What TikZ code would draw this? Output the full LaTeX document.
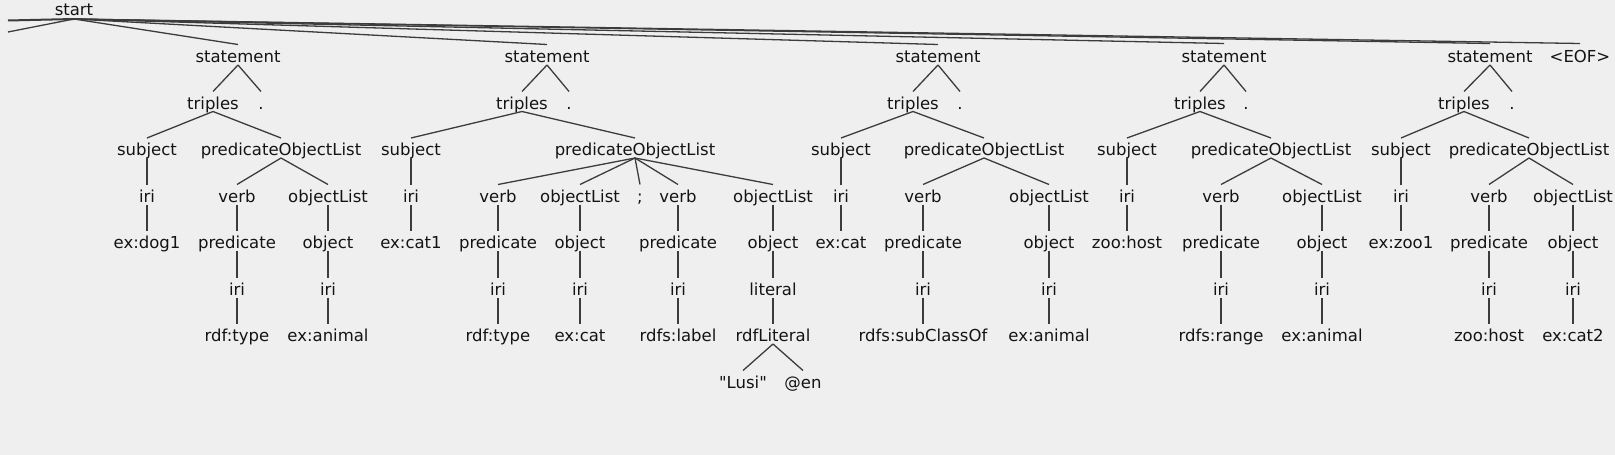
\documentclass[tikz,border=0pt]{standalone}
\usepackage{fontspec}
\setmainfont{DejaVu Sans}[Ligatures=TeXOff]
\definecolor{bgc}{RGB}{239,239,239}
\definecolor{edc}{RGB}{60,60,60}
\definecolor{txc}{RGB}{20,20,20}
\newcommand\edg[2]{\draw[edge] ([yshift=-2.5pt]#1.base) -- ([yshift=17.5pt]#2.base);}
\begin{document}
\begin{tikzpicture}[x=1pt,y=1pt,
  lab/.style={anchor=base,inner sep=0pt,outer sep=0pt,text=txc,font=\fontsize{16.5}{18}\selectfont},
  edge/.style={draw=edc,line width=1.3pt}]
\fill[bgc] (0,0) rectangle (1615,-455);
\useasboundingbox (0,0) rectangle (1615,-455);
% level 0
\node[lab] (start) at (74,-16) {start};
% level 1
\node[lab] (st1) at (238,-62.5) {statement};
\node[lab] (st2) at (547,-62.5) {statement};
\node[lab] (st3) at (938,-62.5) {statement};
\node[lab] (st4) at (1224,-62.5) {statement};
\node[lab] (st5) at (1490,-62.5) {statement};
\node[lab] (eof) at (1580,-62.5) {<EOF>};
% level 2
\node[lab] (t1) at (213,-109) {triples};
\node[lab] (d1) at (261,-109) {.};
\node[lab] (t2) at (522,-109) {triples};
\node[lab] (d2) at (569,-109) {.};
\node[lab] (t3) at (913,-109) {triples};
\node[lab] (d3) at (960,-109) {.};
\node[lab] (t4) at (1200,-109) {triples};
\node[lab] (d4) at (1246,-109) {.};
\node[lab] (t5) at (1464,-109) {triples};
\node[lab] (d5) at (1512,-109) {.};
% level 3
\node[lab] (sub1) at (147,-155.5) {subject};
\node[lab] (pol1) at (281,-155.5) {predicateObjectList};
\node[lab] (sub2) at (411,-155.5) {subject};
\node[lab] (pol2) at (635,-155.5) {predicateObjectList};
\node[lab] (sub3) at (841,-155.5) {subject};
\node[lab] (pol3) at (984,-155.5) {predicateObjectList};
\node[lab] (sub4) at (1127,-155.5) {subject};
\node[lab] (pol4) at (1271,-155.5) {predicateObjectList};
\node[lab] (sub5) at (1401,-155.5) {subject};
\node[lab] (pol5) at (1529,-155.5) {predicateObjectList};
% level 4
\node[lab] (i1s) at (147,-202) {iri};
\node[lab] (v1) at (237,-202) {verb};
\node[lab] (o1) at (328,-202) {objectList};
\node[lab] (i2s) at (411,-202) {iri};
\node[lab] (v2a) at (498,-202) {verb};
\node[lab] (o2a) at (580,-202) {objectList};
\node[lab] (semi) at (640,-202) {;};
\node[lab] (v2b) at (678,-202) {verb};
\node[lab] (o2b) at (773,-202) {objectList};
\node[lab] (i3s) at (841,-202) {iri};
\node[lab] (v3) at (923,-202) {verb};
\node[lab] (o3) at (1049,-202) {objectList};
\node[lab] (i4s) at (1127,-202) {iri};
\node[lab] (v4) at (1221,-202) {verb};
\node[lab] (o4) at (1322,-202) {objectList};
\node[lab] (i5s) at (1401,-202) {iri};
\node[lab] (v5) at (1489,-202) {verb};
\node[lab] (o5) at (1573,-202) {objectList};
% level 5
\node[lab] (x1s) at (147,-248.5) {ex:dog1};
\node[lab] (p1) at (237,-248.5) {predicate};
\node[lab] (b1) at (328,-248.5) {object};
\node[lab] (x2s) at (411,-248.5) {ex:cat1};
\node[lab] (p2a) at (498,-248.5) {predicate};
\node[lab] (b2a) at (580,-248.5) {object};
\node[lab] (p2b) at (678,-248.5) {predicate};
\node[lab] (b2b) at (773,-248.5) {object};
\node[lab] (x3s) at (841,-248.5) {ex:cat};
\node[lab] (p3) at (923,-248.5) {predicate};
\node[lab] (b3) at (1049,-248.5) {object};
\node[lab] (x4s) at (1127,-248.5) {zoo:host};
\node[lab] (p4) at (1221,-248.5) {predicate};
\node[lab] (b4) at (1322,-248.5) {object};
\node[lab] (x5s) at (1401,-248.5) {ex:zoo1};
\node[lab] (p5) at (1489,-248.5) {predicate};
\node[lab] (b5) at (1573,-248.5) {object};
% level 6
\node[lab] (ip1) at (237,-295) {iri};
\node[lab] (ib1) at (328,-295) {iri};
\node[lab] (ip2a) at (498,-295) {iri};
\node[lab] (ib2a) at (580,-295) {iri};
\node[lab] (ip2b) at (678,-295) {iri};
\node[lab] (lit) at (773,-295) {literal};
\node[lab] (ip3) at (923,-295) {iri};
\node[lab] (ib3) at (1049,-295) {iri};
\node[lab] (ip4) at (1221,-295) {iri};
\node[lab] (ib4) at (1322,-295) {iri};
\node[lab] (ip5) at (1489,-295) {iri};
\node[lab] (ib5) at (1573,-295) {iri};
% level 7
\node[lab] (xp1) at (237,-341.5) {rdf:type};
\node[lab] (xb1) at (328,-341.5) {ex:animal};
\node[lab] (xp2a) at (498,-341.5) {rdf:type};
\node[lab] (xb2a) at (580,-341.5) {ex:cat};
\node[lab] (xp2b) at (678,-341.5) {rdfs:label};
\node[lab] (rlit) at (773,-341.5) {rdfLiteral};
\node[lab] (xp3) at (923,-341.5) {rdfs:subClassOf};
\node[lab] (xb3) at (1049,-341.5) {ex:animal};
\node[lab] (xp4) at (1221,-341.5) {rdfs:range};
\node[lab] (xb4) at (1322,-341.5) {ex:animal};
\node[lab] (xp5) at (1489,-341.5) {zoo:host};
\node[lab] (xb5) at (1573,-341.5) {ex:cat2};
% level 8
\node[lab] (lusi) at (743,-388) {"Lusi"};
\node[lab] (en) at (803,-388) {@en};
% off-screen ends
\coordinate (L1) at (8,-32);
\coordinate (L2) at (8,-20.5);
% edges from start
\draw[edge] ([yshift=-3pt]start.base) -- (L1);
\draw[edge,line width=2pt] ([yshift=-3pt]start.base) -- (L2);
\draw[edge] ([yshift=-3pt]start.base) -- ([yshift=18pt]st1.base);
\draw[edge] ([yshift=-3pt]start.base) -- ([yshift=18pt]st2.base);
\draw[edge] ([yshift=-3pt]start.base) -- ([yshift=18pt]st3.base);
\draw[edge] ([yshift=-3pt]start.base) -- ([yshift=19pt]st4.base);
\draw[edge] ([yshift=-3pt]start.base) -- ([yshift=19pt]st5.base);
\draw[edge] ([yshift=-3pt]start.base) -- ([yshift=19pt]eof.base);
% statement -> triples .
\foreach \i in {1,...,5}{\edg{st\i}{t\i}\edg{st\i}{d\i}\edg{t\i}{sub\i}\edg{t\i}{pol\i}}
% subjects
\edg{sub1}{i1s}\edg{i1s}{x1s}
\edg{sub2}{i2s}\edg{i2s}{x2s}
\edg{sub3}{i3s}\edg{i3s}{x3s}
\edg{sub4}{i4s}\edg{i4s}{x4s}
\edg{sub5}{i5s}\edg{i5s}{x5s}
% tree 1
\edg{pol1}{v1}\edg{pol1}{o1}\edg{v1}{p1}\edg{o1}{b1}\edg{p1}{ip1}\edg{b1}{ib1}\edg{ip1}{xp1}\edg{ib1}{xb1}
% tree 2
\edg{pol2}{v2a}\edg{pol2}{o2a}\edg{pol2}{semi}\edg{pol2}{v2b}\edg{pol2}{o2b}
\edg{v2a}{p2a}\edg{o2a}{b2a}\edg{v2b}{p2b}\edg{o2b}{b2b}
\edg{p2a}{ip2a}\edg{b2a}{ib2a}\edg{p2b}{ip2b}\edg{b2b}{lit}
\edg{ip2a}{xp2a}\edg{ib2a}{xb2a}\edg{ip2b}{xp2b}\edg{lit}{rlit}
\edg{rlit}{lusi}\edg{rlit}{en}
% tree 3
\edg{pol3}{v3}\edg{pol3}{o3}\edg{v3}{p3}\edg{o3}{b3}\edg{p3}{ip3}\edg{b3}{ib3}\edg{ip3}{xp3}\edg{ib3}{xb3}
% tree 4
\edg{pol4}{v4}\edg{pol4}{o4}\edg{v4}{p4}\edg{o4}{b4}\edg{p4}{ip4}\edg{b4}{ib4}\edg{ip4}{xp4}\edg{ib4}{xb4}
% tree 5
\edg{pol5}{v5}\edg{pol5}{o5}\edg{v5}{p5}\edg{o5}{b5}\edg{p5}{ip5}\edg{b5}{ib5}\edg{ip5}{xp5}\edg{ib5}{xb5}
\end{tikzpicture}
\end{document}
